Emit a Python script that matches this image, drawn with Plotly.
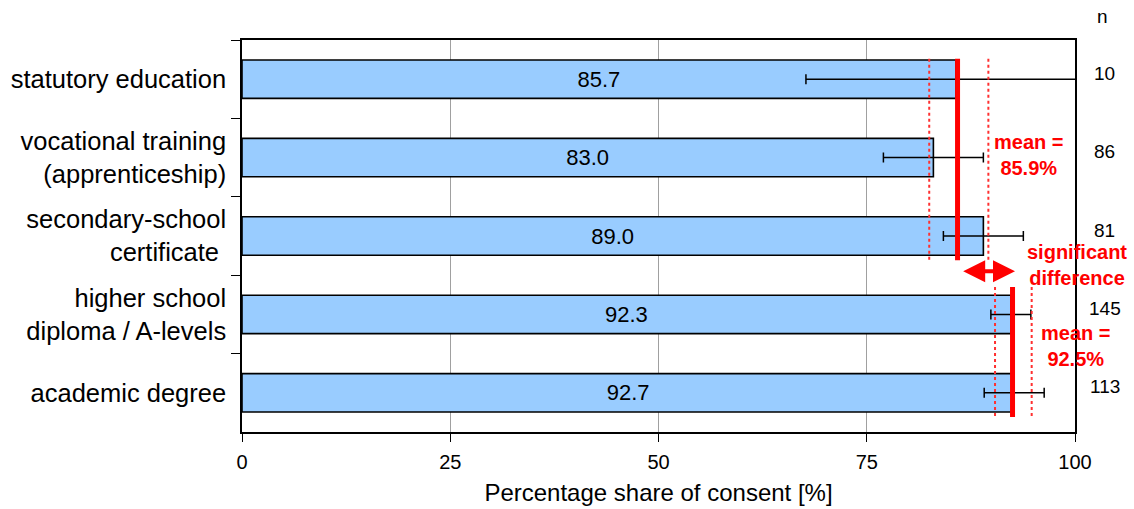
import plotly.graph_objects as go

# Education levels (top to bottom) and share of consent per level
categories = [
    "statutory education",
    "vocational training<br>(apprenticeship)",
    "secondary-school<br>certificate\u00a0",
    "higher school<br>diploma / A-levels",
    "academic degree",
]
consent = [85.7, 83.0, 89.0, 92.3, 92.7]
ci_half = [18.0, 6.0, 4.8, 2.4, 3.6]
sample_n = [10, 86, 81, 145, 113]

# Pooled means of the two groups of education levels, with their intervals
group_mean = [85.9, 92.5]
group_ci_low = [82.5, 90.4]
group_ci_high = [89.6, 94.8]
group_first = [0, 3]
group_last = [2, 4]

x_ticks = [0, 25, 50, 75, 100]

FONT = "Liberation Sans, Arial, sans-serif"
RED = "#FF0000"
# vertical extent of the group lines around the first/last bar of each group
span_top = [0.26, 0.35]
span_bottom = [0.31, 0.31]

fig = go.Figure()
fig.add_trace(go.Bar(
    x=consent,
    y=categories,
    orientation="h",
    marker=dict(color="#99CCFF", line=dict(color="#000000", width=1.6)),
    error_x=dict(type="data", array=ci_half, visible=True,
                 color="#000000", thickness=1.5, width=5),
    text=[f"{v:.1f}" for v in consent],
    textposition="inside",
    insidetextanchor="middle",
    textangle=0,
    constraintext="none",
    textfont=dict(family=FONT, size=22, color="#000000"),
    showlegend=False,
))

shapes = []
for g in range(len(group_mean)):
    y0 = group_first[g] - span_top[g]
    y1 = group_last[g] + span_bottom[g]
    for xv in (group_ci_low[g], group_ci_high[g]):
        shapes.append(dict(type="line", xref="x", yref="y", x0=xv, x1=xv,
                           y0=y0, y1=y1,
                           line=dict(color="#FF3030", width=2, dash="dot")))
    shapes.append(dict(type="line", xref="x", yref="y",
                       x0=group_mean[g], x1=group_mean[g], y0=y0, y1=y1,
                       line=dict(color=RED, width=5)))

annotations = []
# double arrow between the two group means
annotations.append(dict(
    x=group_mean[1] + 0.3, y=2.45, ax=group_mean[0] + 0.5, ay=2.45,
    xref="x", yref="y", axref="x", ayref="y",
    text="", showarrow=True, arrowside="end+start",
    arrowhead=2, startarrowhead=2, arrowsize=1.1, startarrowsize=1.1,
    arrowwidth=4, arrowcolor=RED,
))
bold_red = dict(family=FONT, size=20, color=RED)
annotations.append(dict(x=94.4, y=0.97, xref="x", yref="y", showarrow=False,
                        text=f"<b>mean =<br>{group_mean[0]:.1f}%</b>",
                        font=bold_red, align="center", xanchor="center"))
annotations.append(dict(x=1.0024, y=2.37, xref="paper", yref="y",
                        showarrow=False,
                        text="<b>significant<br>difference</b>",
                        font=bold_red, align="center", xanchor="center"))
annotations.append(dict(x=1.0, y=3.40, xref="paper", yref="y",
                        showarrow=False,
                        text=f"<b>mean =<br>{group_mean[1]:.1f}%</b>",
                        font=bold_red, align="center", xanchor="center"))

# sample sizes on the right
n_font = dict(family=FONT, size=19, color="#000000")
annotations.append(dict(x=1.033, y=1.059, xref="paper", yref="paper",
                        xanchor="center", yanchor="middle", showarrow=False,
                        text="n", font=n_font))
for i, n in enumerate(sample_n):
    annotations.append(dict(x=1.036, y=i, xref="paper", yref="y",
                            xanchor="center", yanchor="middle", yshift=6,
                            showarrow=False, text=str(n), font=n_font))

fig.update_layout(
    width=1134, height=509,
    margin=dict(l=242, r=59, t=40, b=77),
    paper_bgcolor="#FFFFFF", plot_bgcolor="#FFFFFF",
    bargap=0.51,
    font=dict(family=FONT, color="#000000"),
    shapes=shapes,
    annotations=annotations,
)
fig.update_xaxes(
    range=[0, 100], tickvals=x_ticks, ticktext=[str(t) for t in x_ticks],
    showgrid=True, gridcolor="#A0A0A0", gridwidth=1,
    showline=True, linecolor="#000000", linewidth=1.5, mirror=True,
    ticks="outside", ticklen=8, tickcolor="#000000", tickwidth=1.2,
    tickfont=dict(family=FONT, size=20),
    ticklabelstandoff=3,
    title=dict(text="Percentage share of consent [%]",
               font=dict(family=FONT, size=24), standoff=12),
    zeroline=False,
    automargin=False,
)
fig.update_yaxes(
    categoryorder="array", categoryarray=categories,
    range=[4.5, -0.5],
    showgrid=False,
    showline=True, linecolor="#000000", linewidth=1.5, mirror=True,
    ticks="outside", ticklen=9, tickcolor="#000000", tickwidth=1.2,
    tickson="boundaries",
    tickfont=dict(family=FONT, size=25.5),
    ticklabelstandoff=9,
    automargin=False,
)

fig.write_html("out.html")
